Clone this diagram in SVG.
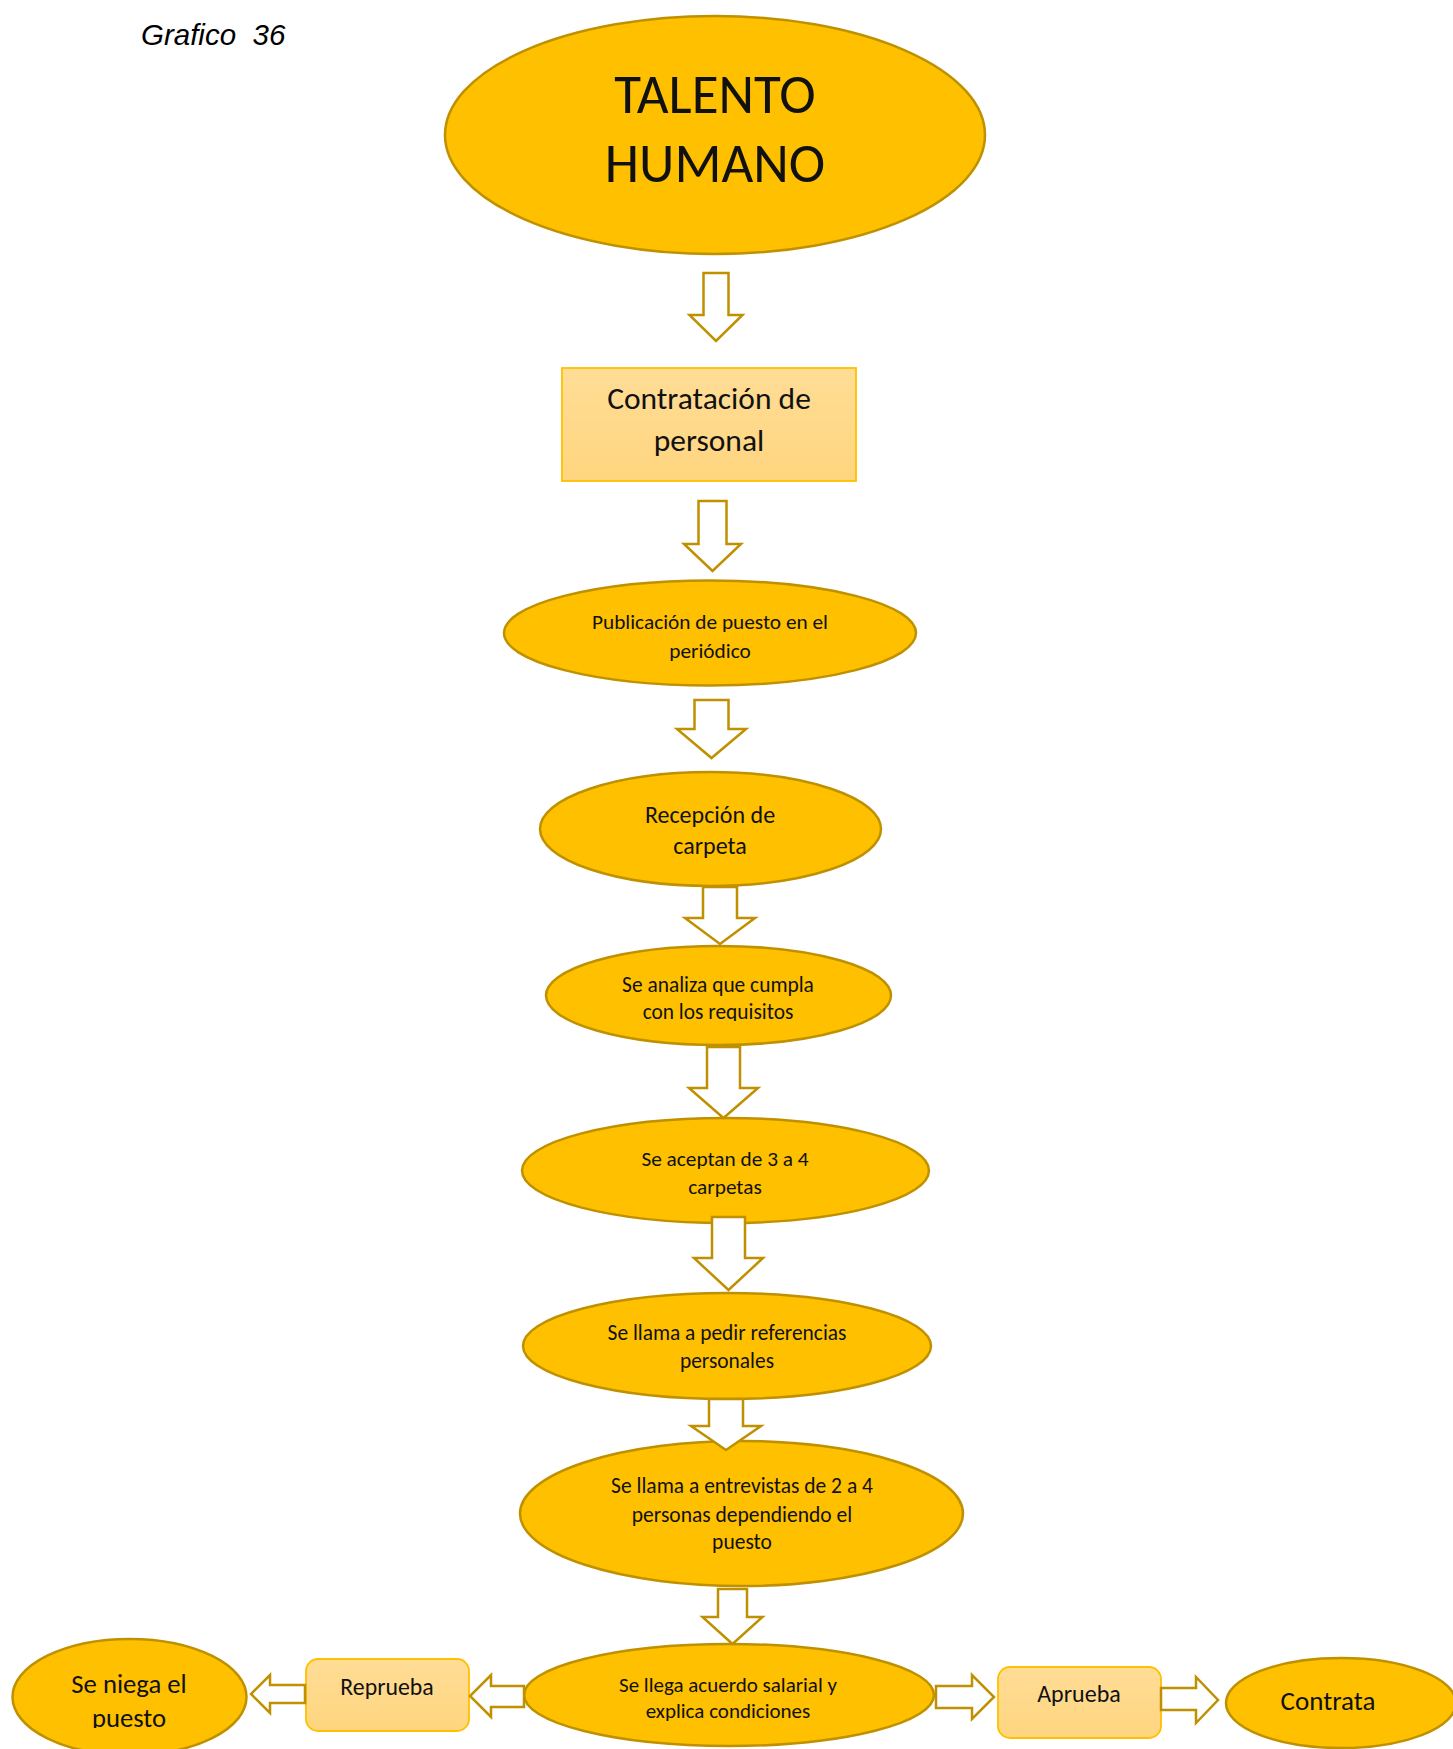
<svg xmlns="http://www.w3.org/2000/svg" width="1453" height="1749" viewBox="0 0 1453 1749">
  <style>
    .ell { fill: #FFC000; stroke: #BF9000; stroke-width: 2.5; }
    .box { fill: url(#boxFill); stroke: #FFC000; stroke-width: 1.8; }
    .arr { fill: #FFFFFF; stroke: #BF9000; stroke-width: 2.5; stroke-linejoin: miter; }
    .t { font-family: Carlito, Lato, "Open Sans", sans-serif; fill: #111111; text-anchor: middle; }
    .cap { font-family: "Liberation Sans", Arial, sans-serif; font-style: italic; fill: #000000; white-space: pre; }
  </style>
  <defs>
    <linearGradient id="boxFill" x1="0" y1="0" x2="0" y2="1">
      <stop offset="0" stop-color="#FFDD96"/>
      <stop offset="1" stop-color="#FFD57F"/>
    </linearGradient>
    <clipPath id="clipAnaliza"><rect x="540" y="940" width="360" height="81"/></clipPath>
    <clipPath id="clipNiega"><rect x="0" y="1630" width="260" height="98"/></clipPath>
  </defs>
  <rect width="1453" height="1749" fill="#FFFFFF"/>

  <text class="cap" x="141" y="45" font-size="29.5" xml:space="preserve">Grafico  36</text>

  <g id="nodes">
    <g id="talento">
      <ellipse class="ell" cx="715" cy="135" rx="270" ry="119"/>
      <text class="t" x="715" y="113" font-size="55">TALENTO</text>
      <text class="t" x="715" y="182" font-size="55">HUMANO</text>
    </g>
    <g id="contratacion">
      <rect class="box" x="562" y="368" width="294" height="113"/>
      <text class="t" x="709" y="409" font-size="31.5">Contratación de</text>
      <text class="t" x="709" y="451" font-size="31.5">personal</text>
    </g>
    <g id="publicacion">
      <ellipse class="ell" cx="710" cy="633" rx="206" ry="52.5"/>
      <text class="t" x="710" y="629" font-size="21.3">Publicación de puesto en el</text>
      <text class="t" x="710" y="658" font-size="21.3">periódico</text>
    </g>
    <g id="recepcion">
      <ellipse class="ell" cx="710.5" cy="829" rx="170.5" ry="57"/>
      <text class="t" x="710" y="823" font-size="24">Recepción de</text>
      <text class="t" x="710" y="854" font-size="24">carpeta</text>
    </g>
    <g id="analiza">
      <ellipse class="ell" cx="718.5" cy="995.5" rx="172.5" ry="49.5"/>
      <text class="t" x="718" y="992" font-size="21.4">Se analiza que cumpla</text>
      <text class="t" x="718" y="1019" font-size="21.4" clip-path="url(#clipAnaliza)">con los requisitos</text>
    </g>
    <g id="aceptan">
      <ellipse class="ell" cx="725.5" cy="1170.5" rx="203.5" ry="52.5"/>
      <text class="t" x="725" y="1166" font-size="21.3">Se aceptan de 3 a 4</text>
      <text class="t" x="725" y="1194" font-size="21.3">carpetas</text>
    </g>
    <g id="referencias">
      <ellipse class="ell" cx="727" cy="1346" rx="204" ry="53"/>
      <text class="t" x="727" y="1340" font-size="21.4">Se llama a pedir referencias</text>
      <text class="t" x="727" y="1368" font-size="21.4">personales</text>
    </g>
    <g id="entrevistas">
      <ellipse class="ell" cx="741.5" cy="1513.5" rx="221.5" ry="72.5"/>
      <text class="t" x="742" y="1493" font-size="21.5">Se llama a entrevistas de 2 a 4</text>
      <text class="t" x="742" y="1522" font-size="21.5">personas dependiendo el</text>
      <text class="t" x="742" y="1549" font-size="21.5">puesto</text>
    </g>
    <g id="acuerdo">
      <ellipse class="ell" cx="729" cy="1695" rx="205" ry="51"/>
      <text class="t" x="728" y="1692" font-size="21">Se llega acuerdo salarial y</text>
      <text class="t" x="728" y="1718" font-size="21">explica condiciones</text>
    </g>
    <g id="reprueba">
      <rect class="box" x="306" y="1659" width="163" height="72" rx="12"/>
      <text class="t" x="387" y="1695" font-size="23.8">Reprueba</text>
    </g>
    <g id="niega">
      <ellipse class="ell" cx="129.5" cy="1697" rx="117" ry="58"/>
      <text class="t" x="129" y="1693" font-size="26.7">Se niega el</text>
      <text class="t" x="129" y="1727" font-size="26.7" clip-path="url(#clipNiega)">puesto</text>
    </g>
    <g id="aprueba">
      <rect class="box" x="998" y="1667" width="163" height="71" rx="12"/>
      <text class="t" x="1079" y="1702" font-size="24">Aprueba</text>
    </g>
    <g id="contrata">
      <ellipse class="ell" cx="1341" cy="1703" rx="115" ry="45"/>
      <text class="t" x="1328" y="1710" font-size="27">Contrata</text>
    </g>
  </g>

  <g id="connectors">
    <!-- block arrows pointing down -->
    <path class="arr" d="M703.5,273 H728.5 V315 H742.5 L716,341 L689.5,315 H703.5 Z"/>
    <path class="arr" d="M698.5,501 H726.5 V544 H741 L712.5,571 L684,544 H698.5 Z"/>
    <path class="arr" d="M694.5,700 H728.5 V729 H746 L711.5,758 L677,729 H694.5 Z"/>
    <path class="arr" d="M703,887 H737 V918 H755 L720,944 L685,918 H703 Z"/>
    <path class="arr" d="M707,1047 H740 V1088 H758 L723.5,1118 L689,1088 H707 Z"/>
    <path class="arr" d="M712,1217 H745 V1258 H763 L728.5,1290 L694,1258 H712 Z"/>
    <path class="arr" d="M709,1399 H743 V1426 H761 L726,1450 L691,1426 H709 Z"/>
    <path class="arr" d="M718,1589 H747 V1617 H762.5 L732.5,1644 L702.5,1617 H718 Z"/>
    <!-- block arrows pointing right -->
    <path class="arr" d="M936,1686 H972 V1675 L994,1697 L972,1719 V1708 H936 Z"/>
    <path class="arr" d="M1161,1688 H1196 V1677 L1218,1700 L1196,1723 V1710 H1161 Z"/>
    <!-- block arrows pointing left -->
    <path class="arr" d="M524,1686 H491 V1675 L470,1696 L491,1717 V1707 H524 Z"/>
    <path class="arr" d="M305,1685 H270 V1675 L251,1694 L270,1713 V1703 H305 Z"/>
  </g>
</svg>
